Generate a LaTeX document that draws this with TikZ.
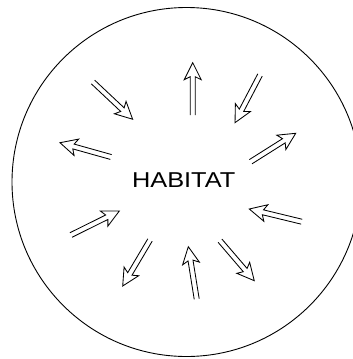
\documentclass[tikz,border=0pt]{standalone}
\usepackage{fontspec}
\setmainfont{Liberation Sans}
\tikzset{
  arr/.style={draw=black, line width=0.85pt, line join=miter},
  rim/.style={draw=black, line width=0.9pt},
  label/.style={font=\fontsize{21.5}{24}\selectfont, xscale=1.18, inner sep=0pt}
}
\newcommand\habarrow[5]{%
  \coordinate (#1-tail) at (#2,#3);
  \coordinate (#1-tip) at (#4,#5);
  \pgfmathsetmacro\hang{atan2(#3-#5,#4-#2)}%
  \pgfmathsetmacro\hlen{veclen(#4-#2,#5-#3)}%
  \begin{scope}[shift={(#1-tail)},rotate=\hang]
    \draw[arr] (0,2.5) -- (\hlen-14,2.5) -- (\hlen-17,8.5) -- (\hlen,0)
      -- (\hlen-17,-8.5) -- (\hlen-14,-2.5) -- (0,-2.5);
  \end{scope}}
\begin{document}
\begin{tikzpicture}[x=1pt,y=-1pt]
  \useasboundingbox (0,0) rectangle (353,359);
  \clip (0,0) rectangle (353,359);
  \fill[white] (0,0) rectangle (353,359);
  \draw[rim] (186.5,182) circle[radius=174.5];
  \node[label] (hab) at (183.7,180) {HABITAT};
  \habarrow{a1}{192.7}{115}{192.7}{62.7}
  \habarrow{a2}{93}{82}{132.7}{119.3}
  \habarrow{a3}{260}{75}{235}{122.7}
  \habarrow{a4}{111}{157}{60}{142.7}
  \habarrow{a5}{250.7}{161.7}{295.7}{133.3}
  \habarrow{a6}{71}{235}{119.3}{211}
  \habarrow{a7}{301.7}{221.7}{249.3}{209}
  \habarrow{a8}{150}{240}{122.7}{286}
  \habarrow{a9}{196.7}{299}{188.3}{246.7}
  \habarrow{a10}{220}{240.7}{254.3}{280.7}
\end{tikzpicture}
\end{document}
